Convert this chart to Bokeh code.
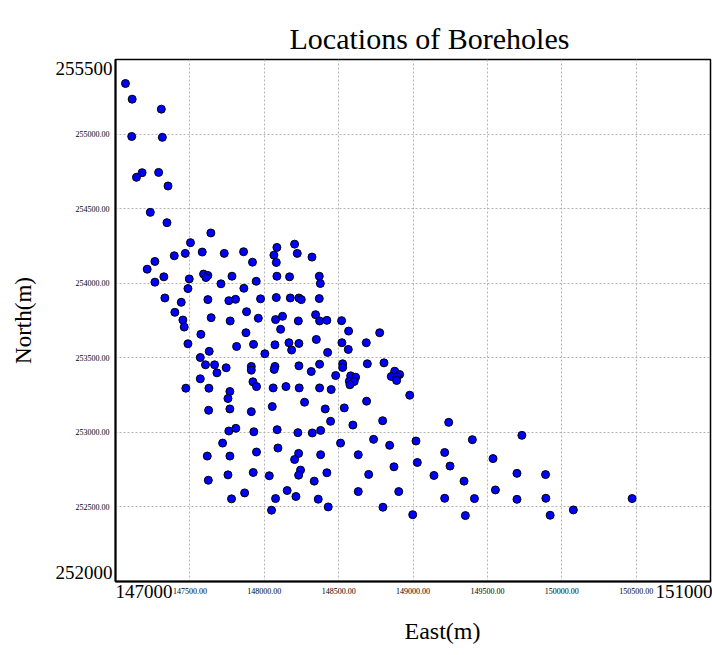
from bokeh.plotting import figure
from bokeh.models import (FixedTicker, PrintfTickFormatter, LinearAxis, Title, Range1d,
                          ColumnDataSource)
from bokeh.embed import file_html
from bokeh.resources import INLINE

# Borehole coordinates (m)
east = [
    147067, 147112, 147308, 147109, 147315, 147179, 147141, 147290, 147353, 147234, 147346, 147641, 147504,
    147265, 147213, 147395, 147469, 147583, 147731, 147861, 147921, 148085, 148065, 148081, 148204, 148222, 148321,
    147265, 147325, 147496, 147592, 147621, 147608, 147783, 147946, 148085, 148170, 148370, 148377,
    147487, 147709, 147863,
    147332, 147442, 147621, 147762, 147807, 147975, 148081, 148175, 148233, 148249, 148370,
    147399, 147453, 147462, 147643, 147771, 147881, 147960, 148076, 148123, 148229, 148110, 148345, 148372, 148421,
    147574, 147877,
    147487, 147630, 147814, 147928, 148004, 148072, 148166, 148184, 148233, 148350, 148426,
    147570, 147605, 147666, 147682, 147744, 147913, 147913, 148072, 148067, 148233, 148372, 148316,
    147570, 147924, 147948, 147473, 147628, 147769, 147756, 148060, 148146, 148235, 148372, 148450,
    147626, 147769, 147913, 148054, 148271, 148410, 148446,
    147762, 147809, 147930, 148087, 148226, 148323, 148379,
    147720, 147617, 147769, 147948, 148092, 148231, 148204, 148379,
    147624, 147756, 147926, 148034, 148244, 148231, 148336, 148421,
    147780, 147868, 148076, 148154, 148213, 148363, 148430, 148049,
    148520, 148567, 148776, 148522, 148686, 148565,
    148527, 148527, 148693, 148805, 148480,
    148581, 148614, 148572, 148605, 148576,
    148877, 148910, 148854, 148892, 148890,
    148978,
    148688, 148538, 148596, 148796, 149240,
    148513, 148735, 148843, 149020, 149399,
    148632, 149213, 148872, 149029, 149249,
    148702, 149141, 149343,
    148632, 148904, 149213, 149413,
    148798, 148998, 149352,
    149732, 149538, 149699, 149891, 149554, 149699, 149893, 150473, 150078, 149922,
]
north = [
    255339, 255234, 255167, 254984, 254978, 254741, 254710, 254743, 254652, 254475, 254406, 254337, 254272,
    254146, 254094, 254184, 254200, 254209, 254200, 254211, 254141, 254240, 254188, 254139, 254262, 254200, 254175,
    254007, 254043, 254029, 254061, 254052, 254038, 254047, 254013, 254047, 254043, 254047, 253998,
    253964, 253996, 253966,
    253901, 253872, 253890, 253883, 253892, 253895, 253904, 253901, 253901, 253890, 253897,
    253805, 253753, 253706, 253769, 253747, 253809, 253765, 253756, 253778, 253747, 253691, 253789, 253747, 253751,
    253657, 253668,
    253594, 253543, 253576, 253590, 253527, 253587, 253601, 253552, 253596, 253623, 253536,
    253502, 253453, 253453, 253399, 253433, 253442, 253417, 253442, 253422, 253446, 253457, 253408,
    253359, 253339, 253307, 253296, 253296, 253274, 253227, 253298, 253307, 253298, 253298, 253287,
    253148, 253157, 253139, 253173, 253202, 253157, 253074,
    253009, 253027, 253004, 253018, 252998, 252996, 253013,
    252928, 252841, 252841, 252868, 252895, 252859, 252818, 252850,
    252679, 252715, 252731, 252709, 252747, 252713, 252673, 252729,
    252554, 252594, 252556, 252610, 252570, 252552, 252500, 252478,
    253749, 253679, 253668, 253601, 253601, 253556,
    253460, 253435, 253460, 253466, 253381,
    253379, 253370, 253343, 253341, 253319,
    253410, 253388, 253375, 253372, 253348,
    253249,
    253209, 253164, 253049, 253078, 253067,
    252928, 252953, 252913, 252942, 252951,
    252850, 252865, 252769, 252798, 252774,
    252718, 252711, 252673,
    252603, 252603, 252558, 252556,
    252498, 252448, 252442,
    252980, 252824, 252725, 252717, 252614, 252551, 252558, 252556, 252480, 252444,
]

# Axis extents and interior grid positions
x_range = (147000, 151000)
y_range = (252000, 255500)
x_grid_ticks = [147500, 148000, 148500, 149000, 149500, 150000, 150500]
y_grid_ticks = [252500, 253000, 253500, 254000, 254500, 255000]

SERIF = "Liberation Serif"
FIG_SPACE = "\u2007"  # digit-wide space, pushes the first end label inside the corner

p = figure(
    width=712, height=655,
    x_range=Range1d(*x_range), y_range=Range1d(*y_range),
    output_backend="svg", toolbar_location=None,
    min_border_left=115, min_border_right=2, min_border_top=59, min_border_bottom=74,
    background_fill_color="white", border_fill_color="white",
)

p.title.text = "Locations of Boreholes"
p.title.align = "left"
p.title.offset = 174
p.title.text_font = SERIF
p.title.text_font_size = "30px"
p.title.text_font_style = "normal"
p.title.text_color = "black"

p.outline_line_color = "black"
p.outline_line_width = 1.5


def plain(ax):
    ax.major_tick_line_color = None
    ax.minor_tick_line_color = None
    ax.major_label_text_font = SERIF
    ax.major_label_text_color = "black"


# interior ticks: small two-decimal labels
for ax, ticks in ((p.xaxis[0], x_grid_ticks), (p.yaxis[0], y_grid_ticks)):
    plain(ax)
    ax.ticker = FixedTicker(ticks=ticks)
    ax.formatter = PrintfTickFormatter(format="%.2f")
    ax.major_label_text_font_size = "8px"
    ax.major_label_standoff = 0
    ax.axis_line_color = "black"
    ax.axis_line_width = 2

# range ends: larger integer labels sitting at the frame corners
x_end = LinearAxis(ticker=FixedTicker(ticks=list(x_range)))
plain(x_end)
x_end.axis_line_color = None
x_end.major_label_text_font_size = "19px"
x_end.major_label_standoff = -22
x_end.major_label_overrides = {
    x_range[0]: FIG_SPACE * len(str(x_range[0])) + str(x_range[0]),
    x_range[1]: str(x_range[1]),
}
p.add_layout(x_end, "below")

y_end = LinearAxis(ticker=FixedTicker(ticks=list(y_range)))
plain(y_end)
y_end.axis_line_color = None
y_end.major_label_text_font_size = "19px"
y_end.major_label_text_line_height = 0.85
y_end.major_label_standoff = -46
y_end.major_label_overrides = {
    y_range[1]: FIG_SPACE + "\n" + str(y_range[1]),
    y_range[0]: str(y_range[0]) + "\n" + FIG_SPACE,
}
y_end.axis_label = "North(m)"
y_end.axis_label_text_font = SERIF
y_end.axis_label_text_font_size = "23px"
y_end.axis_label_text_font_style = "normal"
y_end.axis_label_text_color = "black"
y_end.axis_label_standoff = 17
p.add_layout(y_end, "left")

for g in (p.xgrid, p.ygrid):
    g.grid_line_color = "#b4b4b4"
    g.grid_line_dash = "2 2"
    g.grid_line_width = 1

p.add_layout(Title(text="East(m)", align="left", offset=289, standoff=22,
                   text_font=SERIF, text_font_size="24px", text_font_style="normal",
                   text_color="black"), "below")

src = ColumnDataSource(data=dict(east=east, north=north))
p.scatter("east", "north", source=src, size=8, fill_color="#0000ff",
          line_color="black", line_width=1)

open("out.html", "w").write(file_html(p, INLINE))
